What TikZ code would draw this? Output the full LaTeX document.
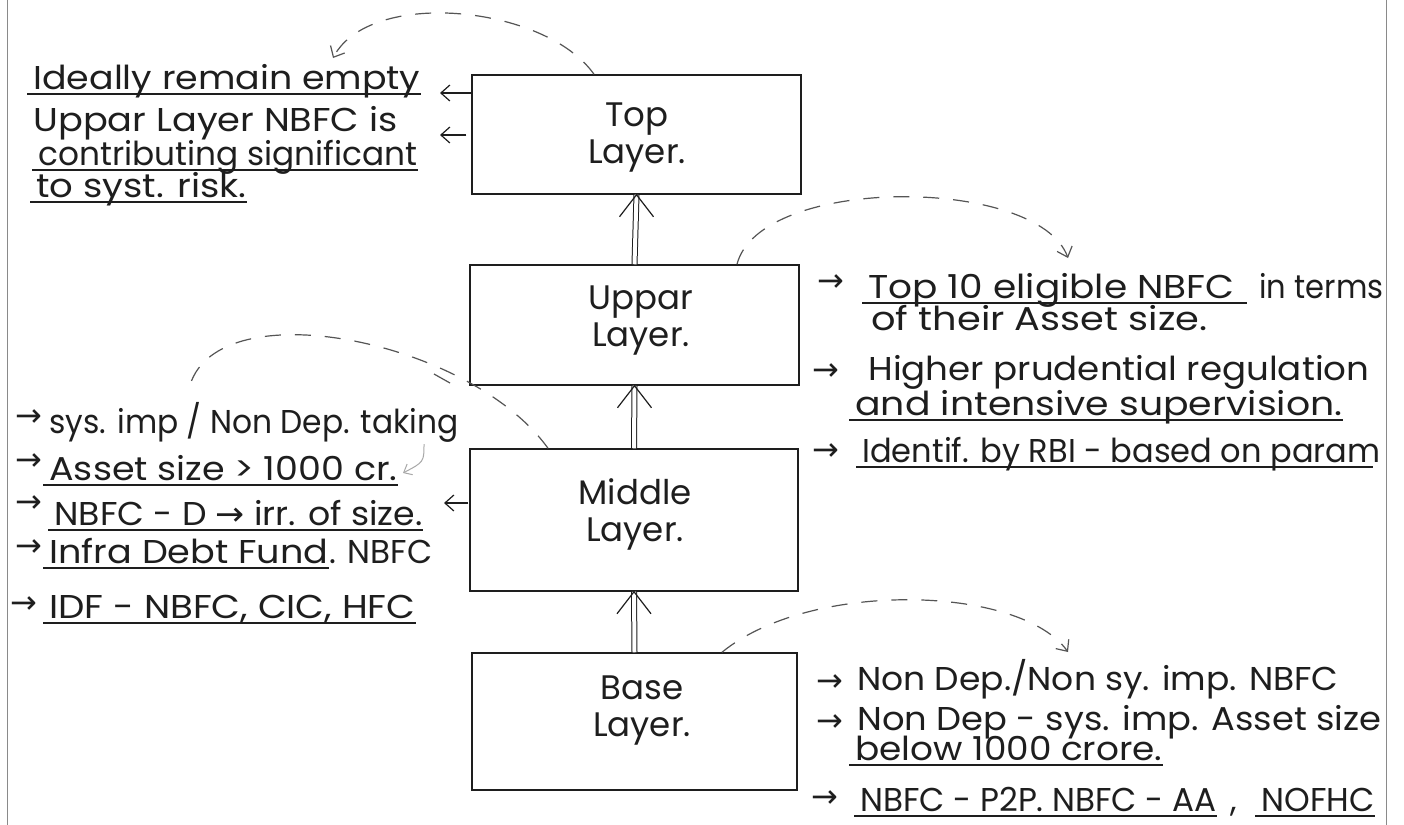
\documentclass[tikz,border=0pt]{standalone}
\usepackage{graphicx}
\usepackage{fontspec}
\setmainfont{Poppins}
\newfontfamily\symf{DejaVu Sans}
\usetikzlibrary{arrows.meta}
\definecolor{ink}{HTML}{1E1E1E}
\definecolor{pencil}{HTML}{555555}
\definecolor{faintgray}{HTML}{A8A8A8}
\definecolor{margin}{HTML}{8A8A8A}
\newcommand\ra{{\symf →}}
% stretch a line of handwriting-like text to a given width, height unchanged
\newcommand\fitto[2]{\resizebox{#1}{\height}{#2}}
% underline a text node, slightly overhanging on the left
\newcommand\ulnode[2][0pt]{\draw[uline] ([xshift=-3pt,yshift=-2.5pt]#2.base west) -- ([xshift=#1,yshift=-2.5pt]#2.base east);}
% open "^" head of a double upward arrow, tip at the given anchor
\newcommand\vhead[1]{\draw[vtip] ([shift={(-17,22)}]#1) -- (#1) -- ([shift={(17,22)}]#1);}
\tikzset{
  layer/.style={draw=ink, line width=0.75pt, inner sep=0pt},
  lbl/.style={font=\fontsize{17}{18.5}\selectfont, align=center, inner sep=0pt, text=ink},
  note/.style={font=\fontsize{16.5}{18}\selectfont, anchor=base west, inner sep=0pt, text=ink},
  bullet/.style={font=\symf\fontsize{16}{18}\selectfont, inner sep=0pt, text=ink},
  uline/.style={draw=ink, line width=0.6pt},
  dashcurve/.style={draw=pencil, line width=0.6pt, dash pattern=on 8pt off 7pt},
  barb/.style={-{Straight Barb[length=4.5pt,width=8pt]}},
  dshaft/.style={draw=ink, double=white, double distance=2pt, line width=0.5pt},
  vtip/.style={draw=ink, line width=0.6pt},
  border/.style={draw=margin, line width=0.5pt},
}
\begin{document}
\begin{tikzpicture}[x=0.5pt,y=-0.5pt]
\useasboundingbox (0,0) rectangle (1404,825);
\fill[white] (0,0) rectangle (1404,825);

% page margins
\draw[border] (7,0) -- (7,825);
\draw[border] (1386,0) -- (1386,825);

% the four layers
\node[layer, minimum width=164.5pt, minimum height=59.5pt] (top)    at (636.5,134.5) {};
\node[layer, minimum width=164.5pt, minimum height=60pt]   (upper)  at (634.5,325) {};
\node[layer, minimum width=164pt,   minimum height=71pt]   (middle) at (634,520) {};
\node[layer, minimum width=162.5pt, minimum height=68.5pt] (base)   at (634.5,721.5) {};

\node[lbl] (topT)  at (637,138) {Top\\Layer.};
\node[lbl] (upT)   at (641,321) {Uppar\\Layer.};
\node[lbl] (midT)  at (635,514) {Middle\\Layer.};
\node[lbl] (baseT) at (642,711) {Base\\Layer.};

% double arrows up the stack
\draw[dshaft] (base.north) -- (middle.south);
\vhead{middle.south}
\draw[dshaft] (middle.north) -- (upper.south);
\vhead{upper.south}
\draw[dshaft] (upper.north) -- (top.south);
\vhead{top.south}

% notes beside the top layer
\node[note] (ideal)   at (33,89)  {\fitto{193.5pt}{Ideally remain empty}};
\node[note] (upn)     at (33,131) {\fitto{182pt}{Uppar Layer NBFC is}};
\node[note] (contrib) at (38,165) {\fitto{189.5pt}{contributing significant}};
\node[note] (syst)    at (36,197) {\fitto{105pt}{to syst. risk.}};
\ulnode{ideal}
\ulnode{contrib}
\ulnode{syst}
\coordinate (tl1) at (440,93);
\coordinate (tl2) at (440,135);
\draw[ink, line width=0.6pt, barb] (top.west |- tl1) -- (tl1);
\draw[ink, line width=0.6pt, barb] ([xshift=-2.5pt]top.west |- tl2) -- (tl2);

% notes beside the middle layer
\node[bullet] (mb1) at (29,418) {→};
\node[note] (m1) at (49,433) {\fitto{204.5pt}{sys. imp / Non Dep. taking}};
\node[bullet] (mb2) at (29,462) {→};
\node[note] (m2) at (49,480) {\fitto{174pt}{Asset size > 1000 cr.}};
\node[bullet] (mb3) at (29,504) {→};
\node[note] (m3) at (54,525) {\fitto{184pt}{NBFC - D \ra{} irr. of size.}};
\node[bullet] (mb4) at (29,548) {→};
\node[note] (m4) at (49,563) {\fitto{139.5pt}{Infra Debt Fund}};
\node[note] (m4b) at (m4.base east) {\fitto{51.5pt}{. NBFC}};
\node[bullet] (mb5) at (24,605) {→};
\node[note] (m5) at (49,618) {\fitto{183pt}{IDF - NBFC, CIC, HFC}};
\ulnode{m2}
\ulnode{m3}
\ulnode{m4}
\ulnode{m5}
\coordinate (ml) at (444,503);
\draw[ink, line width=0.6pt, barb] ([xshift=-0.5pt]middle.west |- ml) -- (ml);

% notes beside the upper layer
\node[bullet] (rb1) at (831,283) {→};
\node[note] (r1)  at (868,298)  {\fitto{183pt}{Top 10 eligible NBFC}};
\node[note] (r1b) at (1259,298) {\fitto{62pt}{in terms}};
\node[note] (r2)  at (871,330)  {\fitto{168pt}{of their Asset size.}};
\node[bullet] (rb3) at (826,372) {→};
\node[note] (r3)  at (868,380)  {\fitto{250.5pt}{Higher prudential regulation}};
\node[note] (r4)  at (855,415)  {\fitto{243.5pt}{and intensive supervision.}};
\node[bullet] (rb5) at (826,452) {→};
\node[note] (r5)  at (862,462)  {\fitto{259pt}{Identif. by RBI - based on param}};
\ulnode[6pt]{r1}
\ulnode{r4}
\ulnode[-4pt]{r5}

% notes beside the base layer
\node[bullet] (bb1) at (830,683) {→};
\node[note] (b1)  at (857,690)  {\fitto{240.5pt}{Non Dep./Non sy. imp. NBFC}};
\node[bullet] (bb2) at (830,723) {→};
\node[note] (b2)  at (857,730)  {\fitto{262pt}{Non Dep - sys. imp. Asset size}};
\node[note] (b3)  at (855,760)  {\fitto{153.5pt}{below 1000 crore.}};
\node[bullet] (bb4) at (825,799) {→};
\node[note] (b4)  at (860,811)  {\fitto{178pt}{NBFC - P2P. NBFC - AA}};
\node[note] (b4c) at (1230,811) {,};
\node[note] (b4b) at (1261,811) {\fitto{56.5pt}{NOFHC}};
\ulnode{b3}
\ulnode{b4}
\ulnode{b4b}

% dashed loops between layers and notes
\coordinate (emptyTip) at (333,58);
\draw[dashcurve, barb] ([xshift=-21.25pt]top.north) .. controls (545,5) and (370,-12) .. (emptyTip);

\coordinate (eligTip) at (1068,258);
\draw[dashcurve, barb] ([xshift=51.25pt]upper.north) .. controls (760,175) and (1038,176) .. (eligTip);

\coordinate (sysEnd) at (190,385);
\draw[dashcurve] ([xshift=-43pt]middle.north) .. controls (470,340) and (220,290) .. (sysEnd);
\draw[pencil, line width=0.6pt] (434,374) -- (450,383);
\coordinate (crTip) at (403,473);
\coordinate (crFrom) at (424,444);
\draw[faintgray, line width=0.5pt, -{Straight Barb[length=3.5pt,width=6pt]}] (crFrom) .. controls (424,462) .. (crTip);

\coordinate (nonTip) at (1068,652);
\draw[dashcurve, barb] ([xshift=43.75pt]base.north) .. controls (810,580) and (1020,585) .. (nonTip);
\end{tikzpicture}
\end{document}
